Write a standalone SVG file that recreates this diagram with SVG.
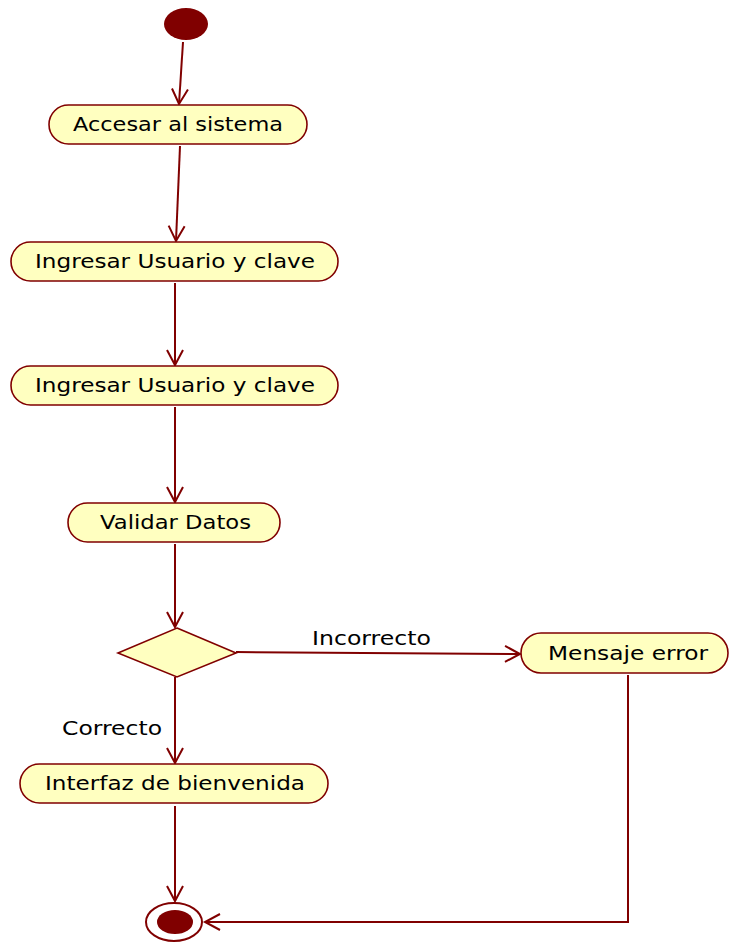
<svg xmlns="http://www.w3.org/2000/svg" width="729" height="942" viewBox="0 0 729 942">
  <defs>
    <style>
      .act { fill: #FFFFC0; stroke: #800000; stroke-width: 1.6; }
      .lbl { font-family: "DejaVu Sans", Verdana, sans-serif; font-size: 19.5px; fill: #000000; }
      .edge { fill: none; stroke: #800000; stroke-width: 2; marker-end: url(#open); }
    </style>
    <marker id="open" markerUnits="userSpaceOnUse" markerWidth="20" markerHeight="20" refX="0" refY="0" orient="auto" overflow="visible">
      <path d="M-15,-8 L0,0 L-15,8" fill="none" stroke="#800000" stroke-width="2"/>
    </marker>
  </defs>

  <g id="edges">
    <line class="edge" x1="183" y1="42" x2="179" y2="104"/>
    <line class="edge" x1="180" y1="146" x2="176" y2="241"/>
    <line class="edge" x1="175" y1="283" x2="175" y2="365"/>
    <line class="edge" x1="175" y1="407" x2="175" y2="502"/>
    <line class="edge" x1="175" y1="544" x2="175" y2="627"/>
    <line class="edge" x1="236" y1="652" x2="520" y2="654"/>
    <line class="edge" x1="175" y1="677" x2="175" y2="763"/>
    <line class="edge" x1="175" y1="806" x2="175" y2="901"/>
    <polyline class="edge" points="628,675 628,922 205,922"/>
    <text class="lbl" x="312" y="645" textLength="119" lengthAdjust="spacingAndGlyphs">Incorrecto</text>
    <text class="lbl" x="62" y="735" textLength="100" lengthAdjust="spacingAndGlyphs">Correcto</text>
  </g>

  <g id="start">
    <ellipse cx="186" cy="24" rx="22" ry="16" fill="#800000"/>
  </g>

  <g id="accesar">
    <rect class="act" x="49" y="105" width="258" height="39" rx="19.5"/>
    <text class="lbl" x="73" y="131" textLength="210" lengthAdjust="spacingAndGlyphs">Accesar al sistema</text>
  </g>

  <g id="ingresar1">
    <rect class="act" x="11" y="242" width="327" height="39" rx="19.5"/>
    <text class="lbl" x="35" y="268" textLength="280" lengthAdjust="spacingAndGlyphs">Ingresar Usuario y clave</text>
  </g>

  <g id="ingresar2">
    <rect class="act" x="11" y="366" width="327" height="39" rx="19.5"/>
    <text class="lbl" x="35" y="392" textLength="280" lengthAdjust="spacingAndGlyphs">Ingresar Usuario y clave</text>
  </g>

  <g id="validar">
    <rect class="act" x="68" y="503" width="212" height="39" rx="19.5"/>
    <text class="lbl" x="100" y="529" textLength="151" lengthAdjust="spacingAndGlyphs">Validar Datos</text>
  </g>

  <g id="decision">
    <polygon class="act" points="177,628 236,653 177,677 118,653"/>
  </g>

  <g id="mensaje">
    <rect class="act" x="521" y="633" width="207" height="40" rx="20"/>
    <text class="lbl" x="548" y="660" textLength="160" lengthAdjust="spacingAndGlyphs">Mensaje error</text>
  </g>

  <g id="interfaz">
    <rect class="act" x="20" y="764" width="308" height="39" rx="19.5"/>
    <text class="lbl" x="45" y="790" textLength="260" lengthAdjust="spacingAndGlyphs">Interfaz de bienvenida</text>
  </g>

  <g id="end">
    <ellipse cx="174" cy="922" rx="28" ry="19" fill="#FFFFFF" stroke="#800000" stroke-width="2"/>
    <ellipse cx="175" cy="922" rx="18" ry="12" fill="#800000"/>
  </g>
</svg>
